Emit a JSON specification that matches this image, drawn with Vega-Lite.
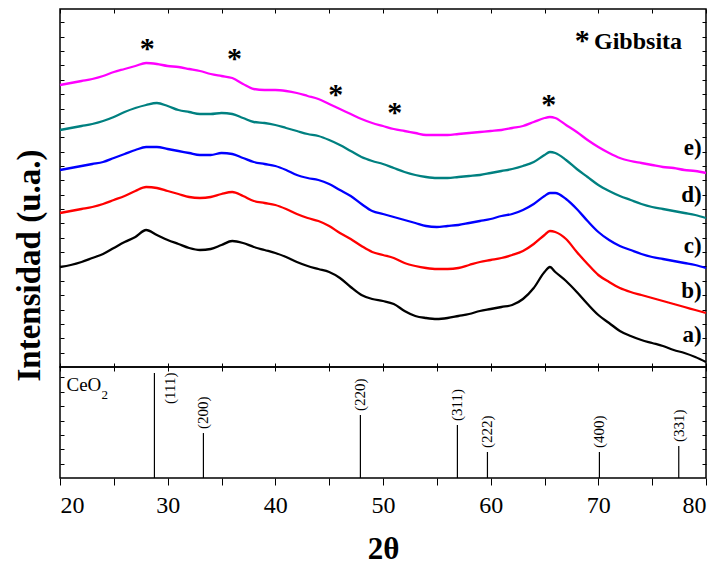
{
  "$schema": "https://vega.github.io/schema/vega-lite/v6.json",
  "background": "white",
  "padding": {"left": 12, "top": 7, "right": 8, "bottom": 4},
  "spacing": 0,
  "bounds": "flush",
  "config": {
    "view": {"stroke": "black", "strokeWidth": 1.5},
    "axis": {"grid": false, "domain": false, "labels": false, "tickColor": "black", "tickWidth": 1, "tickSize": -4, "labelFont": "Liberation Serif", "titleFont": "Liberation Serif", "labelColor": "black", "titleColor": "black"},
    "text": {"font": "Liberation Serif", "color": "black"}
  },
  "datasets": {
    "xrd": [
      {"t":20,"a":100,"b":154,"c":197,"d":237,"e":282},
      {"t":21,"a":102,"b":156,"c":199,"d":239,"e":284},
      {"t":22,"a":105,"b":158,"c":201,"d":241,"e":286},
      {"t":23,"a":109,"b":160,"c":203,"d":243,"e":288},
      {"t":24,"a":113,"b":163,"c":205,"d":246,"e":291},
      {"t":25,"a":119,"b":167,"c":209,"d":250,"e":295},
      {"t":26,"a":125,"b":171,"c":213,"d":255,"e":298},
      {"t":27,"a":130,"b":176,"c":217,"d":259,"e":301},
      {"t":28,"a":137,"b":180,"c":220,"d":262,"e":304},
      {"t":29,"a":132,"b":179,"c":220,"d":264,"e":303},
      {"t":30,"a":127,"b":176,"c":218,"d":261,"e":301},
      {"t":31,"a":123,"b":173,"c":216,"d":257,"e":300},
      {"t":32,"a":119,"b":170,"c":214,"d":255,"e":298},
      {"t":33,"a":117,"b":169,"c":212,"d":253,"e":296},
      {"t":34,"a":118,"b":170,"c":212,"d":253,"e":293},
      {"t":35,"a":122,"b":173,"c":214,"d":254,"e":291},
      {"t":36,"a":126,"b":175,"c":213,"d":253,"e":289},
      {"t":37,"a":124,"b":171,"c":209,"d":249,"e":283},
      {"t":38,"a":120,"b":166,"c":205,"d":245,"e":278},
      {"t":39,"a":117,"b":164,"c":203,"d":244,"e":277},
      {"t":40,"a":114,"b":162,"c":201,"d":242,"e":277},
      {"t":41,"a":110,"b":158,"c":197,"d":239,"e":276},
      {"t":42,"a":105,"b":153,"c":192,"d":236,"e":274},
      {"t":43,"a":101,"b":149,"c":189,"d":233,"e":271},
      {"t":44,"a":98,"b":146,"c":187,"d":231,"e":268},
      {"t":45,"a":95,"b":141,"c":183,"d":227,"e":263},
      {"t":46,"a":89,"b":134,"c":177,"d":222,"e":258},
      {"t":47,"a":80,"b":128,"c":171,"d":216,"e":253},
      {"t":48,"a":72,"b":121,"c":163,"d":210,"e":248},
      {"t":49,"a":68,"b":115,"c":156,"d":206,"e":244},
      {"t":50,"a":66,"b":112,"c":153,"d":203,"e":241},
      {"t":51,"a":63,"b":109,"c":150,"d":199,"e":238},
      {"t":52,"a":56,"b":104,"c":147,"d":195,"e":236},
      {"t":53,"a":51,"b":101,"c":144,"d":192,"e":234},
      {"t":54,"a":49,"b":99,"c":141,"d":190,"e":232},
      {"t":55,"a":48,"b":98,"c":140,"d":189,"e":232},
      {"t":56,"a":49,"b":98,"c":141,"d":189,"e":232},
      {"t":57,"a":51,"b":99,"c":142,"d":190,"e":233},
      {"t":58,"a":53,"b":102,"c":144,"d":191,"e":234},
      {"t":59,"a":56,"b":105,"c":146,"d":192,"e":235},
      {"t":60,"a":58,"b":107,"c":148,"d":194,"e":236},
      {"t":61,"a":60,"b":109,"c":151,"d":196,"e":237},
      {"t":62,"a":62,"b":112,"c":153,"d":198,"e":239},
      {"t":63,"a":68,"b":116,"c":157,"d":201,"e":241},
      {"t":64,"a":79,"b":123,"c":163,"d":205,"e":245},
      {"t":65,"a":95,"b":132,"c":171,"d":212,"e":249},
      {"t":65.5,"a":100,"b":136,"c":174,"d":215,"e":250},
      {"t":66,"a":95,"b":135,"c":174,"d":214,"e":249},
      {"t":67,"a":86,"b":128,"c":168,"d":207,"e":242},
      {"t":68,"a":75,"b":115,"c":158,"d":198,"e":235},
      {"t":69,"a":63,"b":103,"c":146,"d":190,"e":227},
      {"t":70,"a":52,"b":92,"c":135,"d":182,"e":220},
      {"t":71,"a":44,"b":85,"c":127,"d":176,"e":214},
      {"t":72,"a":36,"b":79,"c":121,"d":171,"e":209},
      {"t":73,"a":31,"b":75,"c":117,"d":167,"e":206},
      {"t":74,"a":27,"b":72,"c":113,"d":163,"e":204},
      {"t":75,"a":24,"b":69,"c":110,"d":160,"e":202},
      {"t":76,"a":21,"b":66,"c":108,"d":158,"e":200},
      {"t":77,"a":17,"b":63,"c":106,"d":156,"e":199},
      {"t":78,"a":14,"b":60,"c":104,"d":154,"e":197},
      {"t":79,"a":10,"b":57,"c":102,"d":152,"e":196},
      {"t":80,"a":5,"b":54,"c":99,"d":149,"e":194}
    ],
    "stars": [
      {"t":28.1,"v":322},
      {"t":36.2,"v":312},
      {"t":45.6,"v":276},
      {"t":51.1,"v":258},
      {"t":65.4,"v":266}
    ],
    "tags": [
      {"t":79.6,"v":32,"tag":"a)"},
      {"t":79.6,"v":76,"tag":"b)"},
      {"t":79.6,"v":121,"tag":"c)"},
      {"t":79.6,"v":172,"tag":"d)"},
      {"t":79.6,"v":219,"tag":"e)"}
    ],
    "ceo": [
      {"pos":28.77,"int":94.6,"hkl":"(111)"},
      {"pos":33.32,"int":40.5,"hkl":"(200)"},
      {"pos":47.9,"int":56.8,"hkl":"(220)"},
      {"pos":56.91,"int":47.7,"hkl":"(311)"},
      {"pos":59.7,"int":23.4,"hkl":"(222)"},
      {"pos":70.1,"int":23.4,"hkl":"(400)"},
      {"pos":77.47,"int":28.8,"hkl":"(331)"}
    ]
  },
  "vconcat": [
    {
      "width": 646,
      "height": 358,
      "layer": [
        {
          "data": {"name": "xrd"},
          "transform": [{"fold": ["a","b","c","d","e"], "as": ["serie","int"]}],
          "mark": {"type": "line", "strokeWidth": 2.3, "interpolate": "monotone"},
          "encoding": {
            "x": {"field": "t", "type": "quantitative", "scale": {"domain": [20,80], "nice": false, "zero": false},
                  "axis": {"orient": "bottom", "title": null, "values": [20,25,30,35,40,45,50,55,60,65,70,75,80]}},
            "y": {"field": "int", "type": "quantitative", "scale": {"domain": [0,358], "nice": false, "zero": false},
                  "axis": {"orient": "left",
                           "values": [14.36,28.72,43.08,57.44,71.8,86.16,100.52,114.88,129.24,143.6,157.96,172.32,186.68,201.04,215.4,229.76,244.12,258.48,272.84,287.2,301.56,315.92,330.28,344.64],
                           "title": "Intensidad (u.a.)", "titleFontSize": 33, "titleFontWeight": "bold", "titleAngle": 270, "titleBaseline": "middle", "titleAlign": "center", "titleX": -31, "titleY": 256}},
            "color": {"field": "serie", "type": "nominal", "scale": {"domain": ["a","b","c","d","e"], "range": ["#000000","#ff0000","#0000ff","#008080","#ff00ff"]}, "legend": null}
          }
        },
        {
          "data": {"name": "stars"},
          "mark": {"type": "text", "text": "*", "fontSize": 30, "fontWeight": "bold", "baseline": "middle", "dy": 4},
          "encoding": {
            "x": {"field": "t", "type": "quantitative", "axis": {"orient": "top", "title": null, "values": [20,25,30,35,40,45,50,55,60,65,70,75,80]}},
            "y": {"field": "v", "type": "quantitative", "axis": {"orient": "right", "title": null,
                           "values": [14.36,28.72,43.08,57.44,71.8,86.16,100.52,114.88,129.24,143.6,157.96,172.32,186.68,201.04,215.4,229.76,244.12,258.48,272.84,287.2,301.56,315.92,330.28,344.64]}}
          }
        },
        {
          "data": {"name": "tags"},
          "mark": {"type": "text", "fontSize": 23, "fontWeight": "bold", "align": "right", "baseline": "middle"},
          "encoding": {
            "x": {"field": "t", "type": "quantitative", "axis": null},
            "y": {"field": "v", "type": "quantitative", "axis": null},
            "text": {"field": "tag"}
          }
        },
        {
          "data": {"values": [{}]},
          "mark": {"type": "text", "text": "*", "fontSize": 30, "fontWeight": "bold", "baseline": "middle", "dy": 4},
          "encoding": {"x": {"datum": 68.5, "axis": null}, "y": {"datum": 330, "axis": null}}
        },
        {
          "data": {"values": [{}]},
          "mark": {"type": "text", "text": "Gibbsita", "fontSize": 24, "fontWeight": "bold", "align": "left", "baseline": "alphabetic"},
          "encoding": {"x": {"datum": 69.6, "axis": null}, "y": {"datum": 318, "axis": null}}
        }
      ]
    },
    {
      "width": 646,
      "height": 111,
      "layer": [
        {
          "data": {"name": "ceo"},
          "mark": {"type": "rule", "color": "black", "strokeWidth": 1.2},
          "encoding": {
            "x": {"field": "pos", "type": "quantitative", "scale": {"domain": [20,80], "nice": false, "zero": false},
                  "axis": {"orient": "bottom", "values": [20,25,30,35,40,45,50,55,60,65,70,75,80], "tickSize": 7, "labels": true,
                           "labelExpr": "datum.value % 10 === 0 ? datum.label : ''", "labelFontSize": 24, "labelPadding": 8,
                           "title": "2θ", "titleFontSize": 31, "titleFontWeight": "bold", "titlePadding": 17}},
            "y": {"field": "int", "type": "quantitative", "scale": {"domain": [0,100], "nice": false},
                  "axis": {"orient": "left", "title": null, "values": [12.94,25.88,38.82,51.76,64.7,77.64,90.58]}},
            "y2": {"datum": 0}
          }
        },
        {
          "data": {"name": "ceo"},
          "transform": [{"filter": "datum.int < 90"}],
          "mark": {"type": "text", "angle": 270, "align": "left", "baseline": "middle", "fontSize": 15, "dx": 4},
          "encoding": {
            "x": {"field": "pos", "type": "quantitative", "axis": {"orient": "top", "title": null, "values": [20,25,30,35,40,45,50,55,60,65,70,75,80]}},
            "y": {"field": "int", "type": "quantitative", "axis": {"orient": "right", "title": null, "values": [12.94,25.88,38.82,51.76,64.7,77.64,90.58]}},
            "text": {"field": "hkl"}
          }
        },
        {
          "data": {"name": "ceo"},
          "transform": [{"filter": "datum.int >= 90"}],
          "mark": {"type": "text", "angle": 270, "align": "left", "baseline": "middle", "fontSize": 15, "dx": -31, "dy": 16},
          "encoding": {
            "x": {"field": "pos", "type": "quantitative", "axis": null},
            "y": {"field": "int", "type": "quantitative", "axis": null},
            "text": {"field": "hkl"}
          }
        },
        {
          "data": {"values": [{}]},
          "mark": {"type": "text", "text": "CeO", "fontSize": 19, "align": "left", "baseline": "alphabetic"},
          "encoding": {"x": {"datum": 20.6, "axis": null}, "y": {"datum": 78.5, "axis": null}}
        },
        {
          "data": {"values": [{}]},
          "mark": {"type": "text", "text": "2", "fontSize": 13, "align": "left", "baseline": "alphabetic"},
          "encoding": {"x": {"datum": 23.85, "axis": null}, "y": {"datum": 71.5, "axis": null}}
        }
      ]
    }
  ]
}
